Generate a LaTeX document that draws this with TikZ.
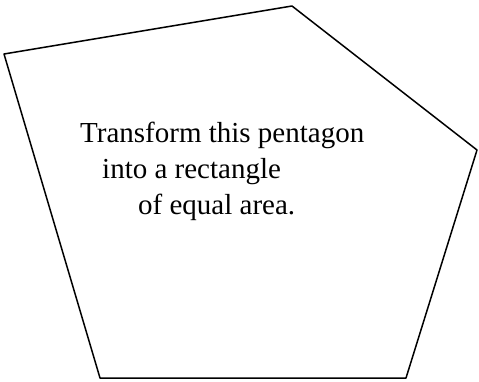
\documentclass[tikz,border=0pt]{standalone}
\usepackage{fontspec}
\setmainfont{Liberation Serif}
\usepackage{tikz}

\begin{document}
\begin{tikzpicture}[x=1pt,y=-1pt, line cap=round, line join=round]
    \useasboundingbox (0,0) rectangle (479,381);

    % Corners
    \coordinate (L)  at (4,54);
    \coordinate (T)  at (292,6);
    \coordinate (R)  at (477,150);
    \coordinate (BR) at (406,378);
    \coordinate (BL) at (100,378);

    % Pentagon
    \draw[line width=1.5pt] (L) -- (T) -- (R) -- (BR) -- (BL) -- cycle;

    % Text
    \tikzset{words/.style={anchor=base west, inner sep=0pt, font=\fontsize{29}{34}\selectfont}}
    \node[words] (line1) at (80,142) {Transform this pentagon};
    \node[words] (line2) at (102,178) {into a rectangle};
    \node[words] (line3) at (138,214) {of equal area.};
\end{tikzpicture}
\end{document}
